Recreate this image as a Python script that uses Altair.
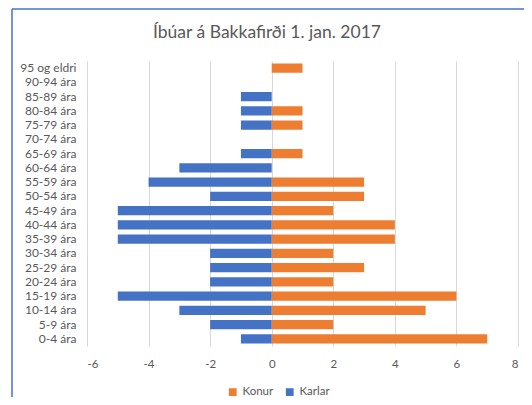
import altair as alt
import pandas as pd

age_groups = ["95 og eldri", "90-94 ára", "85-89 ára", "80-84 ára", "75-79 ára",
              "70-74 ára", "65-69 ára", "60-64 ára", "55-59 ára", "50-54 ára",
              "45-49 ára", "40-44 ára", "35-39 ára", "30-34 ára", "25-29 ára",
              "20-24 ára", "15-19 ára", "10-14 ára", "5-9 ára", "0-4 ára"]
konur = [1, 0, 0, 1, 1, 0, 1, 0, 3, 3, 2, 4, 4, 2, 3, 2, 6, 5, 2, 7]
karlar = [0, 0, -1, -1, -1, 0, -1, -3, -4, -2, -5, -5, -5, -2, -2, -2, -5, -3, -2, -1]
x_ticks = [-6, -4, -2, 0, 2, 4, 6, 8]
title_text = "Íbúar á Bakkafirði 1. jan. 2017"

rows = []
for a, k, m in zip(age_groups, konur, karlar):
    rows.append({"aldur": a, "kyn": "Konur", "fjoldi": k})
    rows.append({"aldur": a, "kyn": "Karlar", "fjoldi": m})
df = pd.DataFrame(rows)

FONT = "Lato"
GRAY = "#595959"

bars = alt.Chart(df).mark_bar().encode(
    y=alt.Y("aldur:N", sort=age_groups, title=None,
            scale=alt.Scale(paddingInner=0.35, paddingOuter=0.175),
            axis=alt.Axis(ticks=False, domain=False, labelFont=FONT, labelFontSize=12,
                          labelColor=GRAY, labelPadding=11, grid=False)),
    x=alt.X("fjoldi:Q", title=None,
            scale=alt.Scale(domain=[-6, 8], nice=False),
            axis=alt.Axis(values=x_ticks, ticks=False, domain=False, labelFont=FONT,
                          labelFontSize=11.5, labelColor=GRAY, labelPadding=12,
                          labelExpr="toString(datum.value)",
                          gridColor="#d9d9d9", gridWidth=1)),
    color=alt.Color("kyn:N",
                    scale=alt.Scale(domain=["Konur", "Karlar"], range=["#ED7D31", "#4472C4"]),
                    legend=alt.Legend(title=None, orient="none", direction="horizontal",
                                      legendX=140, legendY=325, symbolType="square",
                                      symbolSize=60, labelFont=FONT, labelFontSize=11.5,
                                      labelColor=GRAY, columnPadding=10, symbolStrokeWidth=0)),
)

title = alt.Chart(pd.DataFrame({"t": [title_text]})).mark_text(
    font=FONT, fontSize=17.5, color=GRAY, align="center", baseline="middle"
).encode(x=alt.value(180), y=alt.value(-28), text="t:N")

border_left = alt.Chart(pd.DataFrame({"a": [0]})).mark_rule(
    color="#4472C4", strokeWidth=1.5
).encode(x=alt.value(-75), y=alt.value(-52), y2=alt.value(400))

border_top = alt.Chart(pd.DataFrame({"a": [0]})).mark_rule(
    color="#4472C4", strokeWidth=1.5
).encode(x=alt.value(-75), x2=alt.value(460), y=alt.value(-52))

chart = alt.layer(bars, title, border_left, border_top).properties(
    width=431, height=285,
    padding={"left": 79, "top": 53, "right": 6, "bottom": 51},
    autosize=alt.AutoSizeParams(type="none"),
).configure_view(stroke=None)

chart.save("out.html", embed_options={"renderer": "svg", "actions": False})
